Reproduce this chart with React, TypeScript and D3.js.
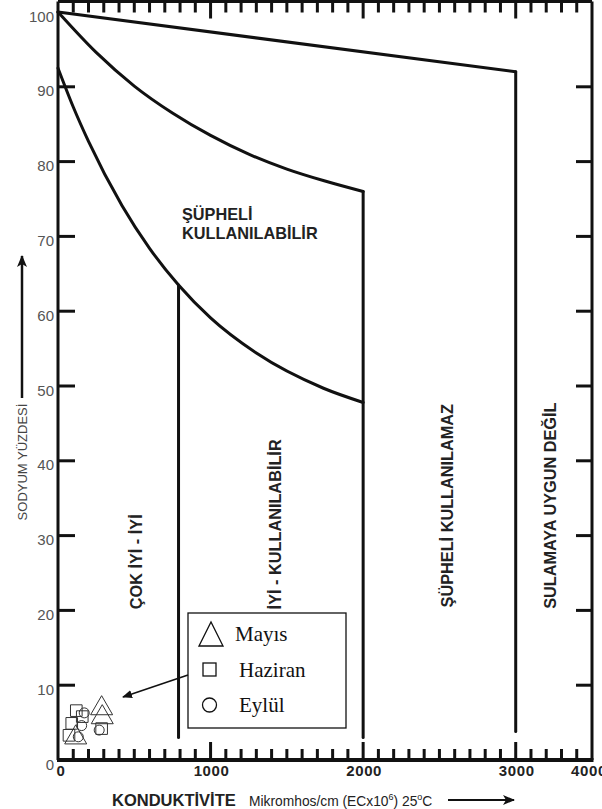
import React from "react";
import * as d3 from "d3";

// classification boundaries (EC in µmhos/cm, Na %)
const topBoundary: [number, number][] = [[0, 100], [3000, 92]];
const midBoundary: [number, number][] = [[0, 100], [250, 94.6], [500, 90.1], [750, 86.5], [1000, 83.5], [1250, 81], [1500, 79], [1750, 77.4], [2000, 76]];
const lowBoundary: [number, number][] = [[0, 92.5], [100, 87.3], [200, 82.7], [420, 74.1], [600, 68.4], [790, 63.5], [1000, 59.1], [1300, 54.4], [1740, 49.7], [2000, 47.8]];
const verticals = [
  { ec: 790, top: 63.5, bottom: 3 },
  { ec: 2000, top: 76, bottom: 3 },
  { ec: 3000, top: 92, bottom: 3.8 },
];

// samples
const mayis: [number, number][] = [[286, 6.9], [290, 5.7], [116, 3.0]];
const haziran: [number, number][] = [[120, 6.6], [90, 4.9], [72, 3.3], [159, 5.8], [286, 4.2]];
const eylul: [number, number][] = [[133, 3.1], [172, 6.3], [270, 4.0], [155, 4.6]];

const xTickLabels = [0, 1000, 2000, 3000, 4000];
const yTickLabels = [0, 10, 20, 30, 40, 50, 60, 70, 80, 90, 100];
const minorTicks = d3.range(100, 3500, 100);
const majorTicks = [1000, 2000, 3000];

const regionLabels = [
  { text: "ÇOK İYİ - İYİ", ec: 510, na: 26.5 },
  { text: "İYİ - KULLANILABİLİR", ec: 1420, na: 31.5 },
  { text: "ŞÜPHELİ  KULLANILAMAZ", ec: 2550, na: 34 },
  { text: "SULAMAYA UYGUN DEĞİL", ec: 3225, na: 34 },
];

const legendItems = [
  { name: "Mayıs", shape: "triangle" },
  { name: "Haziran", shape: "square" },
  { name: "Eylül", shape: "circle" },
];

const W = 602;
const H = 809;
const xMax = 3500;
const x = d3.scaleLinear().domain([0, xMax]).range([58, 592]);
const y = d3.scaleLinear().domain([0, 100]).range([760, 12]);
const frameTop = 1.5;

const sans = "'Liberation Sans', Arial, sans-serif";
const serif = "'Liberation Serif', 'Times New Roman', serif";

export default function App() {
  const line = d3.line<[number, number]>().x(d => x(d[0])).y(d => y(d[1]));
  const curve = d3.line<[number, number]>().x(d => x(d[0])).y(d => y(d[1])).curve(d3.curveMonotoneX);

  const tri = d3.symbol().type(d3.symbolTriangle).size(210);
  const sq = d3.symbol().type(d3.symbolSquare).size(135);

  const x0 = x(0), x1 = x(xMax), yb = y(0);

  return (
    <svg width={W} height={H} style={{ position: "absolute", left: 0, top: 0, background: "white" }}>
      <defs>
        <marker id="ah" viewBox="0 0 10 10" refX="9" refY="5" markerWidth="10" markerHeight="10" markerUnits="userSpaceOnUse" orient="auto">
          <path d="M0,1 L10,5 L0,9 Z" fill="#111" />
        </marker>
        <marker id="ah2" viewBox="0 0 12 10" refX="11" refY="5" markerWidth="12" markerHeight="10" markerUnits="userSpaceOnUse" orient="auto">
          <path d="M0,0 L12,5 L0,10 L3,5 Z" fill="#111" />
        </marker>
      </defs>

      {/* frame */}
      <g stroke="#111" strokeWidth={3} fill="none">
        <line x1={x0} x2={x0} y1={frameTop} y2={yb} />
        <line x1={x1} x2={x1} y1={frameTop} y2={yb} />
        <line x1={x0} x2={x1} y1={frameTop} y2={frameTop} />
        <line x1={x0 - 1} x2={x1 + 1.5} y1={yb} y2={yb} strokeWidth={4} />
      </g>

      {/* ticks */}
      <g stroke="#111" strokeWidth={3}>
        {minorTicks.map(t => {
          const major = majorTicks.includes(t);
          return (
            <g key={t}>
              <line x1={x(t)} x2={x(t)} y1={yb} y2={yb - (major ? 18 : 11)} />
              <line x1={x(t)} x2={x(t)} y1={frameTop} y2={frameTop + (major ? 17 : 11)} />
            </g>
          );
        })}
        {yTickLabels.filter(v => v > 0 && v < 100).map(v => (
          <g key={v}>
            <line x1={x0} x2={x0 + 17} y1={y(v)} y2={y(v)} />
            <line x1={x1} x2={x1 - 16} y1={y(v)} y2={y(v)} />
          </g>
        ))}
      </g>

      {/* tick labels */}
      <g fontFamily={sans} fontSize={15} fill="#555">
        {yTickLabels.map(v => (
          <text key={v} x={x0 - 4} y={y(v) + 4} textAnchor="end" dominantBaseline="central">{v}</text>
        ))}
      </g>
      <g fontFamily={sans} fontSize={15} fontWeight="bold" fill="#222" letterSpacing={0.6}>
        {xTickLabels.map(v => (
          <text key={v} x={(v > xMax ? x(xMax) - 4 : x(v)) + (v === 0 ? 3 : 1)} y={776} textAnchor="middle">{v}</text>
        ))}
      </g>

      {/* boundaries */}
      <g stroke="#111" strokeWidth={3} fill="none" strokeLinejoin="round" strokeLinecap="round">
        <path d={line(topBoundary) ?? ""} />
        <path d={curve(midBoundary) ?? ""} />
        <path d={curve(lowBoundary) ?? ""} />
        {verticals.map(v => (
          <line key={v.ec} x1={x(v.ec)} x2={x(v.ec)} y1={y(v.top)} y2={y(v.bottom)} />
        ))}
      </g>

      {/* region labels */}
      <g fontFamily={sans} fontSize={16.3} fontWeight="bold" fill="#222">
        <text x={182} y={220}>ŞÜPHELİ</text>
        <text x={182} y={239}>KULLANILABİLİR</text>
        {regionLabels.map(r => (
          <text key={r.text} transform={`translate(${x(r.ec)},${y(r.na)}) rotate(-90)`} textAnchor="middle" dominantBaseline="central">{r.text}</text>
        ))}
      </g>

      {/* axis titles */}
      <g fill="#222" fontFamily={sans}>
        <text x={112} y={806} fontSize={16.5} fontWeight="bold">KONDUKTİVİTE</text>
        <text x={249} y={806} fontSize={13.8}>
          Mikromhos/cm (ECx10<tspan fontSize={9} dy={-6}>6</tspan><tspan dy={6}>) 25</tspan><tspan fontSize={9} dy={-6}>o</tspan><tspan dy={6}>C</tspan>
        </text>
        <text transform="translate(22,462) rotate(-90)" textAnchor="middle" dominantBaseline="central" fontSize={13} fill="#444">SODYUM YÜZDESİ</text>
      </g>
      <line x1={448} x2={514} y1={800} y2={800} stroke="#111" strokeWidth={2} markerEnd="url(#ah2)" />
      <line x1={22} x2={22} y1={398} y2={256} stroke="#111" strokeWidth={2.5} markerEnd="url(#ah2)" />

      {/* samples */}
      <g fill="none" stroke="#333" strokeWidth={1}>
        {mayis.map((d, i) => (
          <path key={"m" + i} d={tri() ?? ""} transform={`translate(${x(d[0])},${y(d[1])})`} />
        ))}
        {haziran.map((d, i) => (
          <path key={"h" + i} d={sq() ?? ""} transform={`translate(${x(d[0])},${y(d[1])})`} />
        ))}
        {eylul.map((d, i) => (
          <circle key={"e" + i} cx={x(d[0])} cy={y(d[1])} r={5} />
        ))}
      </g>

      {/* legend */}
      <rect x={188} y={613} width={158} height={115} fill="white" stroke="#111" strokeWidth={1.3} />
      <line x1={188} y1={675} x2={123} y2={697} stroke="#111" strokeWidth={1.6} markerEnd="url(#ah)" />
      {legendItems.map((it, i) => {
        const cy = 634 + i * 35.5;
        return (
          <g key={it.name}>
            {it.shape === "triangle" && <path d={`M199,${cy + 12} L211,${cy - 12} L223,${cy + 12} Z`} fill="none" stroke="#111" strokeWidth={1.3} />}
            {it.shape === "square" && <rect x={203} y={cy - 6.5} width={13} height={13} fill="none" stroke="#111" strokeWidth={1.3} />}
            {it.shape === "circle" && <circle cx={209.5} cy={cy} r={7} fill="none" stroke="#111" strokeWidth={1.3} />}
            <text x={i === 0 ? 235 : 239} y={cy + 7} fontFamily={serif} fontSize={21} fill="#111">{it.name}</text>
          </g>
        );
      })}
    </svg>
  );
}
